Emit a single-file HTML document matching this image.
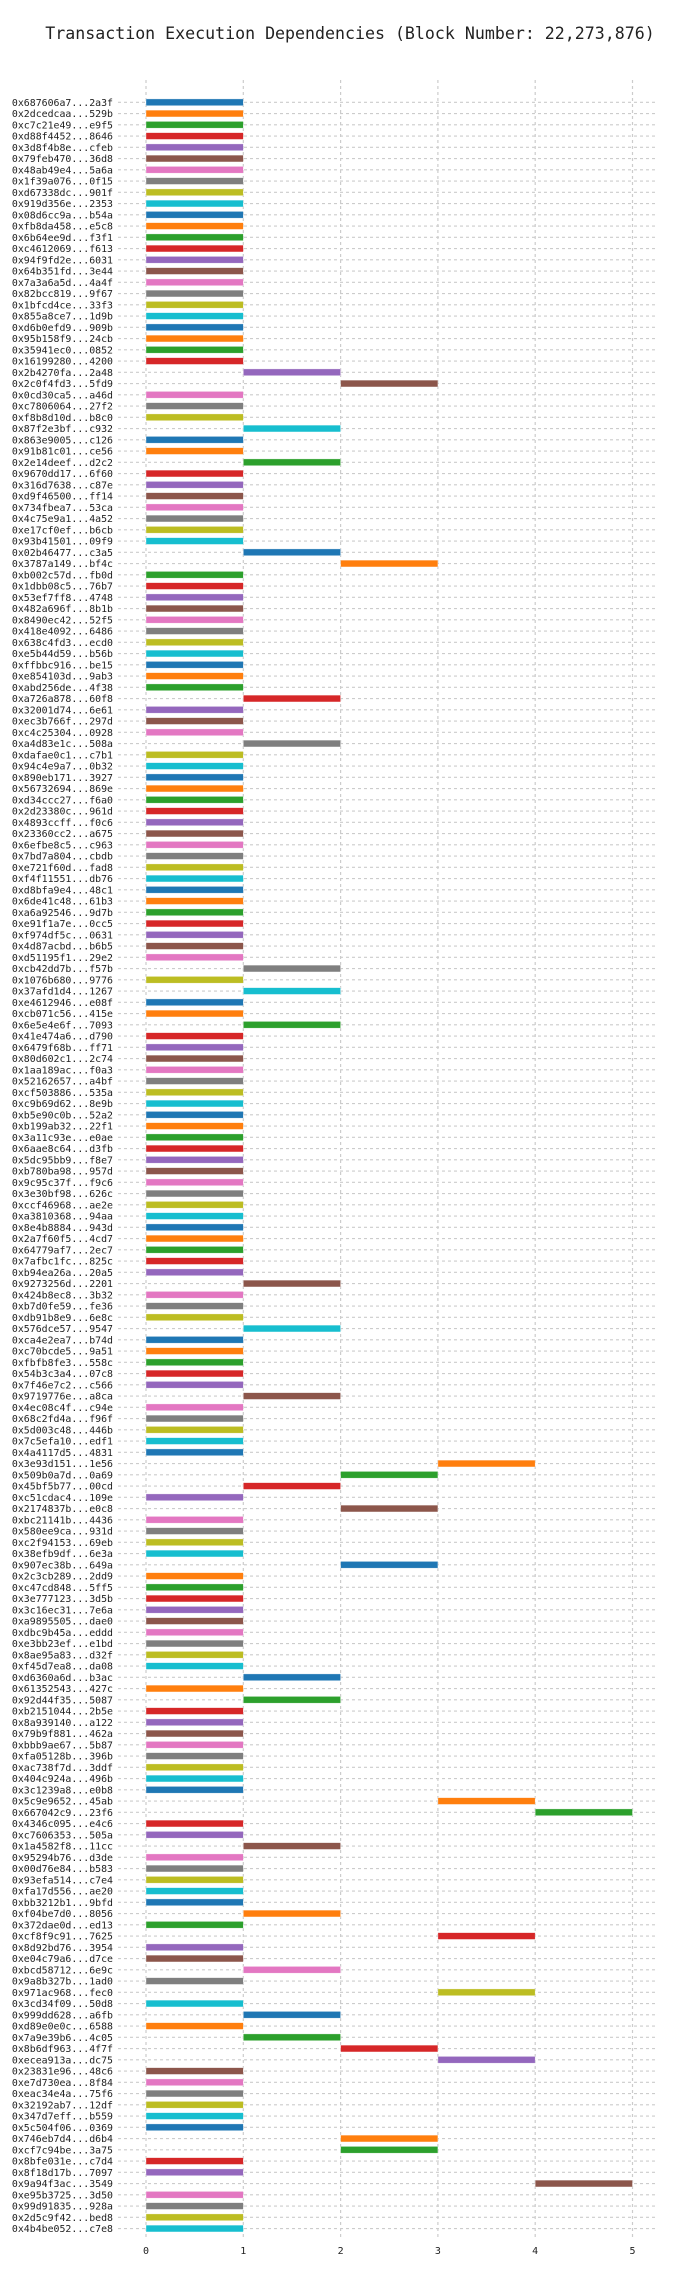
<!DOCTYPE html>
<html>
<head>
<meta charset="utf-8">
<style>
  html,body{margin:0;padding:0;background:#fff;}
  body{width:700px;height:2280px;overflow:hidden;}
  svg{display:block;}
  text{font-family:"DejaVu Sans Mono","Liberation Mono",monospace;fill:#222;}
</style>
</head>
<body>
<svg id="chart" width="700" height="2280" viewBox="0 0 700 2280" xmlns="http://www.w3.org/2000/svg">
  <text x="350" y="39" text-anchor="middle" font-size="16.6">Transaction Execution Dependencies (Block Number: 22,273,876)</text>
  <g id="grid"></g>
  <g id="bars"></g>
  <g id="ylabels"></g>
  <g id="xticks"></g>
</svg>
<script>
const labels = [
"0x687606a7...2a3f","0x2dcedcaa...529b","0xc7c21e49...e9f5","0xd88f4452...8646","0x3d8f4b8e...cfeb","0x79feb470...36d8","0x48ab49e4...5a6a","0x1f39a076...0f15","0xd67338dc...901f","0x919d356e...2353",
"0x08d6cc9a...b54a","0xfb8da458...e5c8","0x6b64ee9d...f3f1","0xc4612069...f613","0x94f9fd2e...6031","0x64b351fd...3e44","0x7a3a6a5d...4a4f","0x82bcc819...9f67","0x1bfcd4ce...33f3","0x855a8ce7...1d9b",
"0xd6b0efd9...909b","0x95b158f9...24cb","0x35941ec0...0852","0x16199280...4200","0x2b4270fa...2a48","0x2c0f4fd3...5fd9","0x0cd30ca5...a46d","0xc7806064...27f2","0xf8b8d10d...b8c0","0x87f2e3bf...c932",
"0x863e9005...c126","0x91b81c01...ce56","0x2e14deef...d2c2","0x9670dd17...6f60","0x316d7638...c87e","0xd9f46500...ff14","0x734fbea7...53ca","0x4c75e9a1...4a52","0xe17cf0ef...b6cb","0x93b41501...09f9",
"0x02b46477...c3a5","0x3787a149...bf4c","0xb002c57d...fb0d","0x1dbb08c5...76b7","0x53ef7ff8...4748","0x482a696f...8b1b","0x8490ec42...52f5","0x418e4092...6486","0x638c4fd3...ecd0","0xe5b44d59...b56b",
"0xffbbc916...be15","0xe854103d...9ab3","0xabd256de...4f38","0xa726a878...60f8","0x32001d74...6e61","0xec3b766f...297d","0xc4c25304...0928","0xa4d83e1c...508a","0xdafae0c1...c7b1","0x94c4e9a7...0b32",
"0x890eb171...3927","0x56732694...869e","0xd34ccc27...f6a0","0x2d23380c...961d","0x4893ccff...f0c6","0x23360cc2...a675","0x6efbe8c5...c963","0x7bd7a804...cbdb","0xe721f60d...fad8","0xf4f11551...db76",
"0xd8bfa9e4...48c1","0x6de41c48...61b3","0xa6a92546...9d7b","0xe91f1a7e...0cc5","0xf974df5c...0631","0x4d87acbd...b6b5","0xd51195f1...29e2","0xcb42dd7b...f57b","0x1076b680...9776","0x37afd1d4...1267",
"0xe4612946...e08f","0xcb071c56...415e","0x6e5e4e6f...7093","0x41e474a6...d790","0x6479f68b...ff71","0x80d602c1...2c74","0x1aa189ac...f0a3","0x52162657...a4bf","0xcf503886...535a","0xc9b69d62...8e9b",
"0xb5e90c0b...52a2","0xb199ab32...22f1","0x3a11c93e...e0ae","0x6aae8c64...d3fb","0x5dc95bb9...f8e7","0xb780ba98...957d","0x9c95c37f...f9c6","0x3e30bf98...626c","0xccf46968...ae2e","0xa3810368...94aa",
"0x8e4b8884...943d","0x2a7f60f5...4cd7","0x64779af7...2ec7","0x7afbc1fc...825c","0xb94ea26a...20a5","0x9273256d...2201","0x424b8ec8...3b32","0xb7d0fe59...fe36","0xdb91b8e9...6e8c","0x576dce57...9547",
"0xca4e2ea7...b74d","0xc70bcde5...9a51","0xfbfb8fe3...558c","0x54b3c3a4...07c8","0x7f46e7c2...c566","0x9719776e...a8ca","0x4ec08c4f...c94e","0x68c2fd4a...f96f","0x5d003c48...446b","0x7c5efa10...edf1",
"0x4a4117d5...4831","0x3e93d151...1e56","0x509b0a7d...0a69","0x45bf5b77...00cd","0xc51cdac4...109e","0x2174837b...e0c8","0xbc21141b...4436","0x580ee9ca...931d","0xc2f94153...69eb","0x38efb9df...6e3a",
"0x907ec38b...649a","0x2c3cb289...2dd9","0xc47cd848...5ff5","0x3e777123...3d5b","0x3c16ec31...7e6a","0xa9895505...dae0","0xdbc9b45a...eddd","0xe3bb23ef...e1bd","0x8ae95a83...d32f","0xf45d7ea8...da08",
"0xd6360a6d...b3ac","0x61352543...427c","0x92d44f35...5087","0xb2151044...2b5e","0x8a939140...a122","0x79b9f881...462a","0xbbb9ae67...5b87","0xfa05128b...396b","0xac738f7d...3ddf","0x404c924a...496b",
"0x3c1239a8...e0b8","0x5c9e9652...45ab","0x667042c9...23f6","0x4346c095...e4c6","0xc7606353...505a","0x1a4582f8...11cc","0x95294b76...d3de","0x00d76e84...b583","0x93efa514...c7e4","0xfa17d556...ae20",
"0xbb3212b1...9bfd","0xf04be7d0...8056","0x372dae0d...ed13","0xcf8f9c91...7625","0x8d92bd76...3954","0xe04c79a6...d7ce","0xbcd58712...6e9c","0x9a8b327b...1ad0","0x971ac968...fec0","0x3cd34f09...50d8",
"0x999dd628...a6fb","0xd89e0e0c...6588","0x7a9e39b6...4c05","0x8b6df963...4f7f","0xecea913a...dc75","0x23831e96...48c6","0xe7d730ea...8f84","0xeac34e4a...75f6","0x32192ab7...12df","0x347d7eff...b559",
"0x5c504f06...0369","0x746eb7d4...d6b4","0xcf7c94be...3a75","0x8bfe031e...c7d4","0x8f18d17b...7097","0x9a94f3ac...3549","0xe95b3725...3d50","0x99d91835...928a","0x2d5c9f42...bed8","0x4b4be052...c7e8"
];
const starts = [
0,0,0,0,0,0,0,0,0,0,
0,0,0,0,0,0,0,0,0,0,
0,0,0,0,1,2,0,0,0,1,
0,0,1,0,0,0,0,0,0,0,
1,2,0,0,0,0,0,0,0,0,
0,0,0,1,0,0,0,1,0,0,
0,0,0,0,0,0,0,0,0,0,
0,0,0,0,0,0,0,1,0,1,
0,0,1,0,0,0,0,0,0,0,
0,0,0,0,0,0,0,0,0,0,
0,0,0,0,0,1,0,0,0,1,
0,0,0,0,0,1,0,0,0,0,
0,3,2,1,0,2,0,0,0,0,
2,0,0,0,0,0,0,0,0,0,
1,0,1,0,0,0,0,0,0,0,
0,3,4,0,0,1,0,0,0,0,
0,1,0,3,0,0,1,0,3,0,
1,0,1,2,3,0,0,0,0,0,
0,2,2,0,0,4,0,0,0,0
];
const ends = [
1,1,1,1,1,1,1,1,1,1,
1,1,1,1,1,1,1,1,1,1,
1,1,1,1,2,3,1,1,1,2,
1,1,2,1,1,1,1,1,1,1,
2,3,1,1,1,1,1,1,1,1,
1,1,1,2,1,1,1,2,1,1,
1,1,1,1,1,1,1,1,1,1,
1,1,1,1,1,1,1,2,1,2,
1,1,2,1,1,1,1,1,1,1,
1,1,1,1,1,1,1,1,1,1,
1,1,1,1,1,2,1,1,1,2,
1,1,1,1,1,2,1,1,1,1,
1,4,3,2,1,3,1,1,1,1,
3,1,1,1,1,1,1,1,1,1,
2,1,2,1,1,1,1,1,1,1,
1,4,5,1,1,2,1,1,1,1,
1,2,1,4,1,1,2,1,4,1,
2,1,2,3,4,1,1,1,1,1,
1,3,3,1,1,5,1,1,1,1
];
const xTicks = ["0","1","2","3","4","5"];
const palette = ["#1f77b4","#ff7f0e","#2ca02c","#d62728","#9467bd","#8c564b","#e377c2","#7f7f7f","#bcbd22","#17becf"];

const NS = "http://www.w3.org/2000/svg";
const axLeft = 121.7, axRight = 657, axTop = 80, axBottom = 2237;
const x0 = 146, unit = 97.3;
const rowTop = 102.3, rowStep = 11.25;
function xScale(v){ return x0 + v*unit; }
function yScale(i){ return rowTop + i*rowStep; }
function mk(tag, attrs){ const e=document.createElementNS(NS,tag); for(const k in attrs) e.setAttribute(k,attrs[k]); return e; }

const grid = document.getElementById('grid');
const bars = document.getElementById('bars');
const ylab = document.getElementById('ylabels');
const xt = document.getElementById('xticks');

// vertical gridlines
xTicks.forEach((t,i)=>{
  const x = xScale(+t);
  const l = mk('line',{x1:x,x2:x,y1:axTop,y2:axBottom,stroke:'#cccccc','stroke-width':1.2,'stroke-dasharray':'3,3'});
  
  
  grid.appendChild(l);
  const tx = mk('text',{x:x,y:axBottom+17,'text-anchor':'middle','font-size':10});
  tx.textContent = t;
  
  
  xt.appendChild(tx);
});

labels.forEach((lab,i)=>{
  const y = yScale(i);
  const g = mk('line',{x1:118,x2:axRight,y1:y,y2:y,stroke:'#cccccc','stroke-width':1.2,'stroke-dasharray':'3,3'});
  
  
  grid.appendChild(g);

  const xa = xScale(starts[i]), xb = xScale(ends[i]);
  const r = mk('rect',{x:xa,y:y-3.4,width:xb-xa,height:6.8,fill:palette[i%10],stroke:'#ffffff','stroke-opacity':0.6,'stroke-width':0.6});
  
  
  bars.appendChild(r);

  const t = mk('text',{x:113,y:y+3.5,'text-anchor':'end','font-size':9.9});
  t.textContent = lab;
  
  
  ylab.appendChild(t);
});
</script>
</body>
</html>
